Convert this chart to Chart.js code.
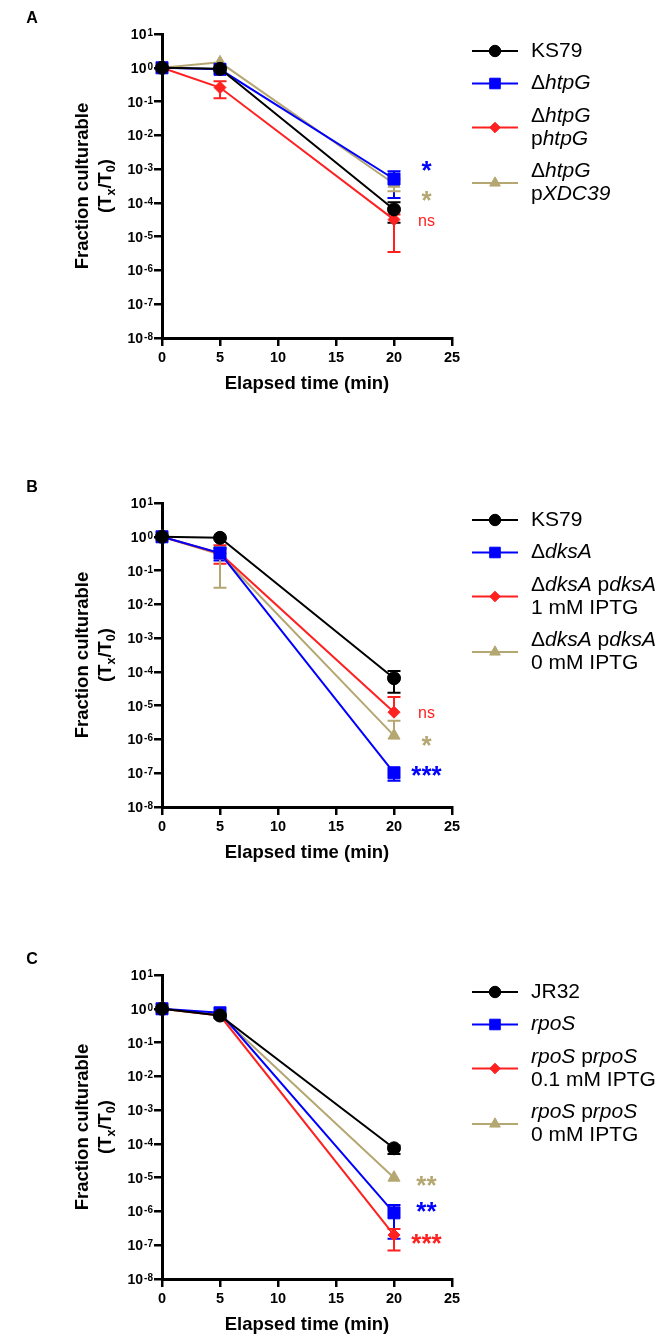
<!DOCTYPE html>
<html>
<head>
<meta charset="utf-8">
<script src="https://cdn.jsdelivr.net/npm/chart.js@4.4.1/dist/chart.umd.min.js"></script>
<style>
  body { margin: 0; background: #fff; width: 661px; height: 1339px; position: relative; overflow: hidden; }
  canvas { position: absolute; left: 0; }
</style>
</head>
<body>
<canvas id="panelA" width="661" height="398" style="top:0px"></canvas>
<canvas id="panelB" width="661" height="398" style="top:469px"></canvas>
<canvas id="panelC" width="661" height="398" style="top:941px"></canvas>
<script>
const FONT = "'Liberation Sans', Arial, sans-serif";

const timeMin = [0, 5, 20];
const xTicks = [0, 5, 10, 15, 20, 25];
const yTickExps = [-8, -7, -6, -5, -4, -3, -2, -1, 0, 1];
const sigTime = 22.8;

// series order in every panel: wild type, mutant, complemented, control
const seriesColors = ['#000000', '#0000ff', '#ff2020', '#b4a772'];
const seriesMarkers = ['circle', 'rect', 'rectRot', 'triangle'];
const markerRadius = [6.5, 8.5, 6, 7];

// Panel A  (_x_ = italic)
const aLabels = ['KS79', 'Δ_htpG_', 'Δ_htpG_\np_htpG_', 'Δ_htpG_\np_XDC39_'];
const aMeans = [[1, 0.93, 6.4e-5], [1, 0.9, 5.1e-4], [1, 0.26, 3.2e-5], [1, 1.45, 3.7e-4]];
const aLow = [[null, null, 2.6e-5], [null, null, 1.4e-4], [null, 0.126, 3.5e-6], [null, null, 2.2e-4]];
const aHigh = [[null, null, 1.05e-4], [null, null, 8.7e-4], [null, 0.4, 4.5e-5], [null, null, 5e-4]];
const aSigText = ['', '*', 'ns', '*'];
const aSigAt = [null, 7.4e-4, 2.8e-5, 1.65e-4];

// Panel B
const bLabels = ['KS79', 'Δ_dksA_', 'Δ_dksA_ p_dksA_\n1 mM IPTG', 'Δ_dksA_ p_dksA_\n0 mM IPTG'];
const bMeans = [[1, 0.93, 6.5e-5], [1, 0.33, 1.03e-7], [1, 0.32, 6.4e-6], [1, 0.3, 1.3e-6]];
const bLow = [[null, null, 2.4e-5], [null, 0.2, 6e-8], [null, 0.158, null], [null, 0.031, null]];
const bHigh = [[null, null, 1.07e-4], [null, 0.45, null], [null, 0.56, 1.8e-5], [null, 0.5, 3.6e-6]];
const bSigText = ['', '***', 'ns', '*'];
const bSigAt = [null, 7.2e-8, 6e-6, 9.3e-7];

// Panel C
const cLabels = ['JR32', '_rpoS_', '_rpoS_ p_rpoS_\n0.1 mM IPTG', '_rpoS_ p_rpoS_\n0 mM IPTG'];
const cMeans = [[1, 0.63, 7.4e-5], [1, 0.76, 9.1e-7], [1, 0.63, 2e-7], [1, 0.63, 1e-5]];
const cLow = [[null, null, 5e-5], [null, null, 1.55e-7], [null, null, 7e-8], [null, null, null]];
const cHigh = [[null, null, 9e-5], [null, null, 1.55e-6], [null, null, 3e-7], [null, null, null]];
const cSigText = ['', '**', '***', '**'];
const cSigAt = [null, 8.3e-7, 1.5e-7, 8.1e-6];

const panels = [
  { id: 'panelA', letter: 'A', labels: aLabels, means: aMeans, low: aLow, high: aHigh, sigText: aSigText, sigAt: aSigAt },
  { id: 'panelB', letter: 'B', labels: bLabels, means: bMeans, low: bLow, high: bHigh, sigText: bSigText, sigAt: bSigAt },
  { id: 'panelC', letter: 'C', labels: cLabels, means: cMeans, low: cLow, high: cHigh, sigText: cSigText, sigAt: cSigAt },
];

// draw text so that its ink is centred on (cx, cy)
const drawCentered = (ctx, text, cx, cy) => {
  const m = ctx.measureText(text);
  ctx.textAlign = 'center';
  ctx.textBaseline = 'alphabetic';
  ctx.fillText(text, cx, cy - (m.actualBoundingBoxDescent - m.actualBoundingBoxAscent) / 2);
};

// split "Δ_htpG_ p" into [{t, italic}]
const parseRich = (line) => line.split('_').map((t, k) => ({ t: t, italic: k % 2 === 1 })).filter(s => s.t);

const makeDecorations = (panel) => ({
  id: 'decorations',
  beforeDatasetsDraw(chart) {
    const ctx = chart.ctx, xs = chart.scales.x, ys = chart.scales.y;
    ctx.save();
    ctx.lineWidth = 2;
    chart.data.datasets.forEach((ds, i) => {
      ctx.strokeStyle = ds.borderColor;
      timeMin.forEach((t, j) => {
        const px = xs.getPixelForValue(t);
        const py = ys.getPixelForValue(panel.means[i][j]);
        [panel.low[i][j], panel.high[i][j]].forEach(v => {
          if (v == null) return;
          const ey = ys.getPixelForValue(v);
          ctx.beginPath();
          ctx.moveTo(px, py);
          ctx.lineTo(px, ey);
          ctx.moveTo(px - 6.5, ey);
          ctx.lineTo(px + 6.5, ey);
          ctx.stroke();
        });
      });
    });
    ctx.restore();
  },
  afterDraw(chart) {
    const ctx = chart.ctx, xs = chart.scales.x, ys = chart.scales.y;
    const area = chart.chartArea;
    ctx.save();
    ctx.fillStyle = '#000';

    // panel letter
    ctx.font = `bold 16px ${FONT}`;
    drawCentered(ctx, panel.letter, 32, area.top - 17);

    // y tick labels 10^n
    yTickExps.forEach(e => {
      const y = ys.getPixelForValue(Math.pow(10, e));
      const sup = String(e);
      ctx.font = `bold 10px ${FONT}`;
      const supW = ctx.measureText(sup).width;
      const right = area.left - 9;
      ctx.textAlign = 'right';
      ctx.textBaseline = 'alphabetic';
      ctx.fillText(sup, right, y + 2);
      ctx.font = `bold 14px ${FONT}`;
      ctx.fillText('10', right - supW - 1, y + 5);
    });

    // y axis title
    const cy = (area.top + area.bottom) / 2;
    ctx.save();
    ctx.translate(88, cy);
    ctx.rotate(-Math.PI / 2);
    ctx.font = `bold 18.5px ${FONT}`;
    ctx.textAlign = 'center';
    ctx.textBaseline = 'alphabetic';
    ctx.fillText('Fraction culturable', 0, 0);
    const parts = [['(T', 0], ['x', 1], ['/T', 0], ['0', 1], [')', 0]];
    const fontOf = sub => sub ? `bold 12.5px ${FONT}` : `bold 18.5px ${FONT}`;
    let total = 0;
    parts.forEach(([s, sub]) => { ctx.font = fontOf(sub); total += ctx.measureText(s).width; });
    let x = -total / 2;
    ctx.textAlign = 'left';
    parts.forEach(([s, sub]) => {
      ctx.font = fontOf(sub);
      ctx.fillText(s, x, 23 + (sub ? 4 : 0));
      x += ctx.measureText(s).width;
    });
    ctx.restore();

    // legend
    let cursor = area.top + 5.5;
    const lineH = 23;
    chart.data.datasets.forEach((ds, i) => {
      const lines = panel.labels[i].split('\n');
      const rowY = cursor + lines.length * lineH / 2;
      ctx.strokeStyle = ds.borderColor;
      ctx.fillStyle = ds.borderColor;
      ctx.lineWidth = 2;
      ctx.beginPath();
      ctx.moveTo(472, rowY);
      ctx.lineTo(518, rowY);
      ctx.stroke();
      ctx.lineWidth = 1;
      Chart.helpers.drawPoint(ctx, { pointStyle: ds.pointStyle, radius: markerRadius[i] * 0.88, rotation: 0, borderWidth: 1 }, 495, rowY);
      ctx.fillStyle = '#000';
      ctx.textAlign = 'left';
      ctx.textBaseline = 'middle';
      lines.forEach((ln, k) => {
        let tx = 531;
        const ty = rowY + (k - (lines.length - 1) / 2) * lineH;
        parseRich(ln).forEach(seg => {
          ctx.font = `${seg.italic ? 'italic ' : ''}21px ${FONT}`;
          ctx.fillText(seg.t, tx, ty);
          tx += ctx.measureText(seg.t).width;
        });
      });
      cursor += lines.length * lineH + 9.5;
    });

    // significance marks
    panel.sigText.forEach((s, i) => {
      if (!s) return;
      ctx.fillStyle = seriesColors[i];
      ctx.font = s.includes('*') ? `bold 26px ${FONT}` : `16px ${FONT}`;
      drawCentered(ctx, s, xs.getPixelForValue(sigTime), ys.getPixelForValue(panel.sigAt[i]));
    });
    ctx.restore();
  }
});

const buildChart = (panel) => {
  const canvas = document.getElementById(panel.id);
  return new Chart(canvas, {
    type: 'line',
    data: {
      datasets: panel.labels.map((lab, i) => ({
        label: lab.replace(/_/g, '').replace('\n', ' '),
        data: timeMin.map((t, j) => ({ x: t, y: panel.means[i][j] })),
        borderColor: seriesColors[i],
        backgroundColor: seriesColors[i],
        borderWidth: 2,
        pointStyle: seriesMarkers[i],
        pointRadius: markerRadius[i],
        pointHoverRadius: markerRadius[i],
        pointBorderWidth: 1,
        tension: 0,
        clip: false,
      })),
    },
    options: {
      responsive: false,
      animation: false,
      events: [],
      layout: { padding: { left: 0, right: 209, top: 34, bottom: 0 } },
      plugins: { legend: { display: false }, tooltip: { enabled: false } },
      scales: {
        x: {
          type: 'linear',
          min: 0,
          max: 25,
          afterBuildTicks: s => { s.ticks = xTicks.map(v => ({ value: v })); },
          afterFit: s => { s.height = 60; },
          border: { display: true, color: '#000', width: 3 },
          grid: { display: true, drawOnChartArea: false, drawTicks: true, tickLength: 8, lineWidth: 2.5, color: '#000' },
          ticks: { color: '#000', font: { family: FONT, size: 14.5, weight: 'bold' }, padding: 3, maxRotation: 0 },
          title: {
            display: true,
            text: 'Elapsed time (min)',
            color: '#000',
            font: { family: FONT, size: 18.5, weight: 'bold' },
            padding: { top: 0, bottom: 3 },
          },
        },
        y: {
          type: 'logarithmic',
          min: 1e-8,
          max: 10,
          afterBuildTicks: s => { s.ticks = yTickExps.map(e => ({ value: Math.pow(10, e) })); },
          afterFit: s => { s.width = 162; },
          border: { display: true, color: '#000', width: 3 },
          grid: { display: true, drawOnChartArea: false, drawTicks: true, tickLength: 8, lineWidth: 2.5, color: '#000' },
          ticks: { display: false },
        },
      },
    },
    plugins: [makeDecorations(panel)],
  });
};

panels.forEach(buildChart);
</script>
</body>
</html>
